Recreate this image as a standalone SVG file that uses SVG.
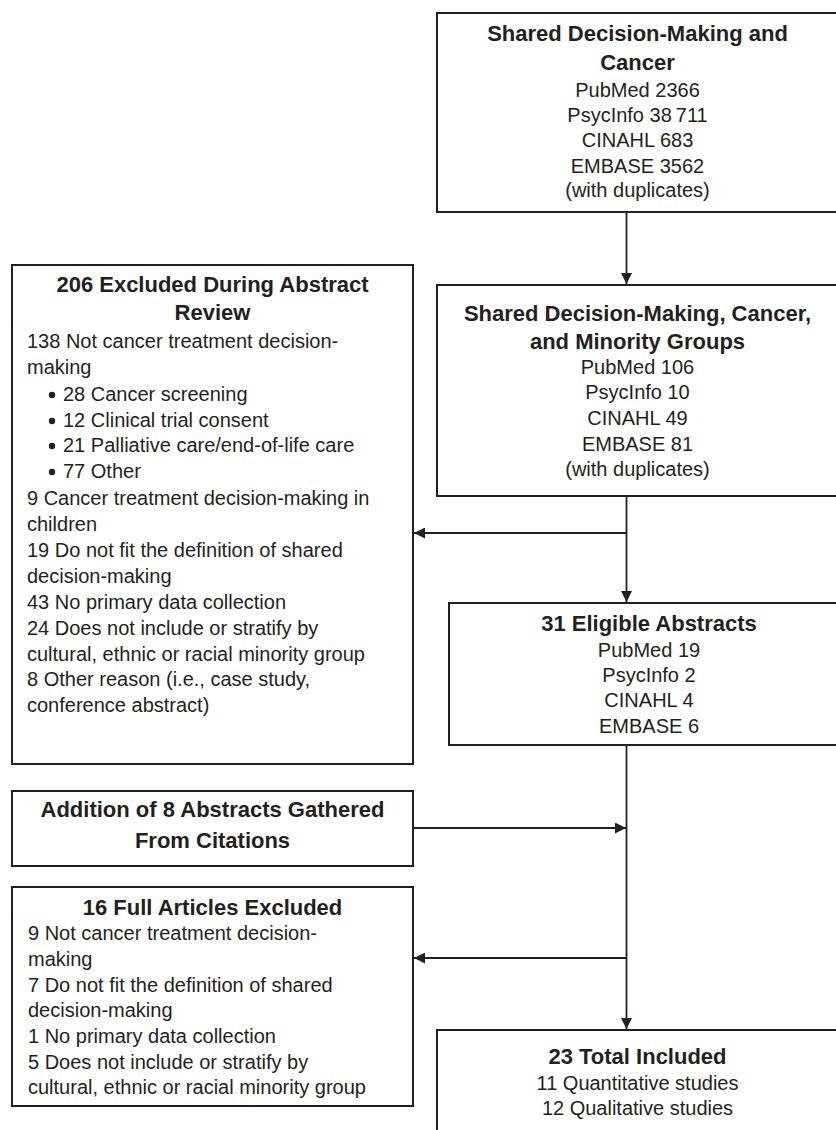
<svg xmlns="http://www.w3.org/2000/svg" width="836" height="1130" viewBox="0 0 836 1130">
<defs>
<style>
.box{fill:#fff;stroke:#231f20;stroke-width:2}
.t{font-family:"Liberation Sans",Arial,sans-serif;font-size:20px;fill:#231f20}
.b{font-family:"Liberation Sans",Arial,sans-serif;font-size:22px;font-weight:bold;fill:#231f20}
.c{text-anchor:middle}
.con{fill:none;stroke:#231f20;stroke-width:1.8}
.dot{fill:#231f20}
</style>
<marker id="ah" markerUnits="userSpaceOnUse" markerWidth="11" markerHeight="11" refX="11" refY="5.5" orient="auto">
<path d="M0,0 L11,5.5 L0,11 z" fill="#231f20"/>
</marker>
</defs>
<rect width="836" height="1130" fill="#fff"/>

<g id="connectors">
<path class="con" d="M626.5,212 V284" marker-end="url(#ah)"/>
<path class="con" d="M626.5,496 V602" marker-end="url(#ah)"/>
<path class="con" d="M626.5,533 H414" marker-end="url(#ah)"/>
<path class="con" d="M626.5,745 V1029" marker-end="url(#ah)"/>
<path class="con" d="M413,828 H626" marker-end="url(#ah)"/>
<path class="con" d="M626.5,958 H414" marker-end="url(#ah)"/>
</g>

<g id="search1">
<rect class="box" x="437" y="13" width="401" height="199"/>
<text class="b c" x="637.5" y="41">Shared Decision-Making and</text>
<text class="b c" x="637.5" y="70">Cancer</text>
<text class="t c" x="637.5" y="97">PubMed 2366</text>
<text class="t c" x="637.5" y="122">PsycInfo 38&#8201;711</text>
<text class="t c" x="637.5" y="147">CINAHL 683</text>
<text class="t c" x="637.5" y="173">EMBASE 3562</text>
<text class="t c" x="637.5" y="197">(with duplicates)</text>
</g>

<g id="search2">
<rect class="box" x="437" y="285" width="401" height="211"/>
<text class="b c" x="637.5" y="321">Shared Decision-Making, Cancer,</text>
<text class="b c" x="637.5" y="349">and Minority Groups</text>
<text class="t c" x="637.5" y="374">PubMed 106</text>
<text class="t c" x="637.5" y="399">PsycInfo 10</text>
<text class="t c" x="637.5" y="425">CINAHL 49</text>
<text class="t c" x="637.5" y="451">EMBASE 81</text>
<text class="t c" x="637.5" y="476">(with duplicates)</text>
</g>

<g id="excluded206">
<rect class="box" x="12" y="265" width="401" height="499"/>
<text class="b c" x="212.5" y="292">206 Excluded During Abstract</text>
<text class="b c" x="212.5" y="320">Review</text>
<text class="t" x="27" y="348">138 Not cancer treatment decision-</text>
<text class="t" x="27" y="374">making</text>
<circle class="dot" cx="52" cy="395" r="3.2"/>
<text class="t" x="63" y="401">28 Cancer screening</text>
<circle class="dot" cx="52" cy="421" r="3.2"/>
<text class="t" x="63" y="427">12 Clinical trial consent</text>
<circle class="dot" cx="52" cy="446" r="3.2"/>
<text class="t" x="63" y="452">21 Palliative care/end-of-life care</text>
<circle class="dot" cx="52" cy="472" r="3.2"/>
<text class="t" x="63" y="478">77 Other</text>
<text class="t" x="27" y="505">9 Cancer treatment decision-making in</text>
<text class="t" x="27" y="531">children</text>
<text class="t" x="27" y="557">19 Do not fit the definition of shared</text>
<text class="t" x="27" y="583">decision-making</text>
<text class="t" x="27" y="609">43 No primary data collection</text>
<text class="t" x="27" y="635">24 Does not include or stratify by</text>
<text class="t" x="27" y="661">cultural, ethnic or racial minority group</text>
<text class="t" x="27" y="686">8 Other reason (i.e., case study,</text>
<text class="t" x="27" y="712">conference abstract)</text>
</g>

<g id="eligible31">
<rect class="box" x="449" y="603" width="401" height="142"/>
<text class="b c" x="649" y="631">31 Eligible Abstracts</text>
<text class="t c" x="649" y="657">PubMed 19</text>
<text class="t c" x="649" y="682">PsycInfo 2</text>
<text class="t c" x="649" y="707">CINAHL 4</text>
<text class="t c" x="649" y="733">EMBASE 6</text>
</g>

<g id="addition">
<rect class="box" x="12" y="791" width="401" height="75"/>
<text class="b c" x="212.5" y="817">Addition of 8 Abstracts Gathered</text>
<text class="b c" x="212.5" y="848">From Citations</text>
</g>

<g id="excluded16">
<rect class="box" x="12" y="887" width="401" height="219"/>
<text class="b c" x="212.5" y="915">16 Full Articles Excluded</text>
<text class="t" x="28" y="940">9 Not cancer treatment decision-</text>
<text class="t" x="28" y="966">making</text>
<text class="t" x="28" y="992">7 Do not fit the definition of shared</text>
<text class="t" x="28" y="1017">decision-making</text>
<text class="t" x="28" y="1043">1 No primary data collection</text>
<text class="t" x="28" y="1069">5 Does not include or stratify by</text>
<text class="t" x="28" y="1094">cultural, ethnic or racial minority group</text>
</g>

<g id="included23">
<rect class="box" x="437" y="1030" width="401" height="120"/>
<text class="b c" x="637.5" y="1064">23 Total Included</text>
<text class="t c" x="637.5" y="1090">11 Quantitative studies</text>
<text class="t c" x="637.5" y="1115">12 Qualitative studies</text>
</g>
</svg>
